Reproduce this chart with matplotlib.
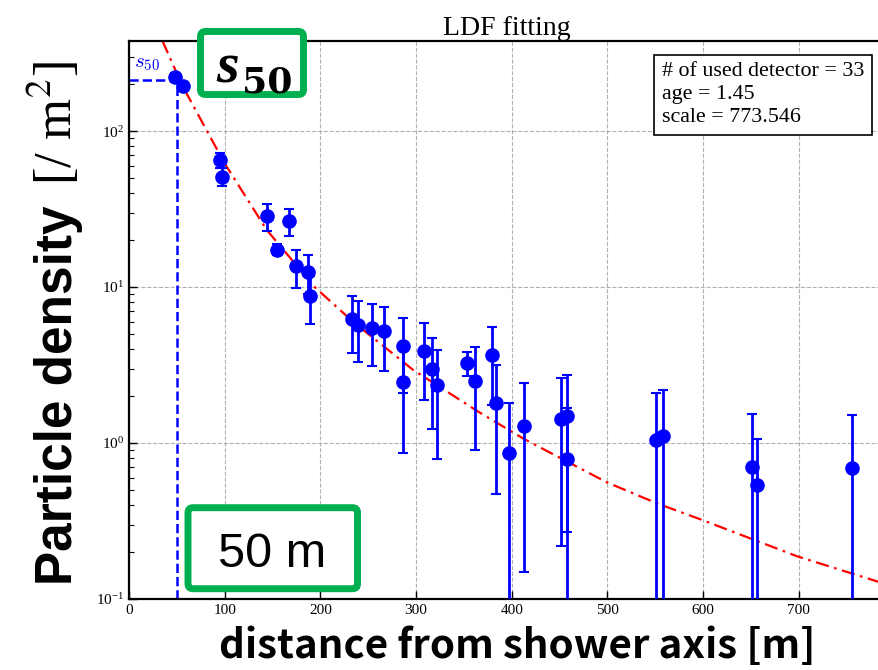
import numpy as np
import matplotlib
matplotlib.use("Agg")
import matplotlib.pyplot as plt
from matplotlib.patches import FancyBboxPatch

# detector data
r = [48, 56, 95, 97.5, 144, 155, 167, 175, 187, 189, 233, 239, 254, 266, 286, 286,
     308, 317, 322, 353, 362, 379, 384, 397, 413, 451.5, 458, 458, 551, 558, 651, 656, 755]
rho = [222, 194, 65.2, 51, 28.5, 17.4, 26.6, 13.6, 12.5, 8.8, 6.26, 5.71, 5.46, 5.2, 4.2, 2.46,
       3.89, 2.98, 2.36, 3.27, 2.5, 3.65, 1.81, 0.865, 1.29, 1.42, 1.5, 0.787, 1.045, 1.11, 0.706, 0.54, 0.689]
rho_err = [15, 13, 7.5, 6.8, 5.5, 1.4, 5.2, 3.7, 3.5, 3.0, 2.5, 2.4, 2.35, 2.3, 2.1, 1.6,
           2.0, 1.75, 1.57, 0.57, 1.6, 1.9, 1.34, 0.93, 1.14, 1.2, 1.23, 0.9, 1.04, 1.08, 0.84, 0.52, 0.83]

# fitted LDF curve
fit_r = [35, 56, 100, 144, 194, 234, 297, 367, 413, 499, 551, 599, 698, 790]
fit_rho = [378, 194, 62, 23.2, 10.0, 6.0, 2.94, 1.56, 1.06, 0.561, 0.412, 0.321, 0.188, 0.125]

s50_r = 50
s50 = 214
info = "# of used detector = 33\nage = 1.45\nscale = 773.546"

plt.rcParams['mathtext.fontset'] = 'cm'
plt.rcParams['font.family'] = 'Liberation Serif'

W, H = 879, 670
fig = plt.figure(figsize=(W / 100, H / 100), dpi=100)
ax = fig.add_axes([129 / W, 1 - 599 / H, 756 / W, 558 / H])


def px(x, y):
    # pixel position (from top-left) -> inches for dpi_scale_trans
    return x / 100, (H - y) / 100


ax.set_yscale('log')
ax.errorbar(r, rho, yerr=rho_err, fmt='o', color='blue', ms=9.5, elinewidth=2,
            capsize=3.8, capthick=1.5, zorder=3)
ax.plot(fit_r, fit_rho, color='red', ls=(0, (6, 2.5, 1.2, 2.5)), lw=1.6, zorder=2)
ax.plot([0, s50_r], [s50, s50], color='blue', ls='--', lw=1.8, zorder=2)
ax.plot([s50_r, s50_r], [0.1, s50], color='blue', ls='--', lw=1.8, zorder=2)
ax.text(5, 257, r'$s_{50}$', color='blue', fontsize=15, va='baseline')

ax.set_xlim(0, 790)
ax.set_ylim(0.1, 378)
ax.set_xticks(np.arange(0, 800, 100))
ax.grid(True, which='major', ls='--', color='#b0b0b0', lw=0.8)
ax.tick_params(which='both', direction='in', labelsize=11)
ax.tick_params(which='major', length=6, width=1)
ax.tick_params(which='minor', length=3.5, width=0.8)
for sp in ax.spines.values():
    sp.set_linewidth(1.6)
ax.set_title('LDF fitting', fontsize=20, pad=3)

ax.text(0.705, 0.962, info, transform=ax.transAxes, fontsize=15.8, va='top', ha='left',
        linespacing=1.28,
        bbox=dict(boxstyle='square,pad=0.35', fc='white', ec='black', lw=1.2))

green = '#00B050'
# s50 label box
x0, y0 = px(200.5, 94.5)
x1, y1 = px(303.5, 31.5)
fig.add_artist(FancyBboxPatch((x0, y0), x1 - x0, y1 - y0, boxstyle='round,pad=0,rounding_size=0.05',
                              transform=fig.dpi_scale_trans, fc='white', ec=green, lw=5))
fig.text(*px(216, 82.7), 's', transform=fig.dpi_scale_trans, fontsize=42, fontweight='bold',
         fontstyle='italic', family='Liberation Serif', va='baseline', ha='left')
fig.text(*px(242, 92.7), '50', transform=fig.dpi_scale_trans, fontsize=26, fontweight='bold',
         family='DejaVu Serif', va='baseline', ha='left')

# 50 m box
x0, y0 = px(188, 588.7)
x1, y1 = px(357.5, 507.7)
fig.add_artist(FancyBboxPatch((x0, y0), x1 - x0, y1 - y0, boxstyle='round,pad=0,rounding_size=0.05',
                              transform=fig.dpi_scale_trans, fc='white', ec=green, lw=5))
fig.text(*px(272, 567), '50 m', transform=fig.dpi_scale_trans, fontsize=35,
         family='Liberation Sans', va='baseline', ha='center')

# axis labels
fig.text(*px(517, 658), 'distance from shower axis [m]', transform=fig.dpi_scale_trans,
         fontsize=29, fontweight='bold', family=['Noto Sans CJK JP', 'DejaVu Sans'],
         va='baseline', ha='center')
ylab = fig.text(*px(72, 585), 'Particle density', transform=fig.dpi_scale_trans, fontsize=37,
                fontweight='bold', family='Liberation Sans', rotation=90,
                rotation_mode='anchor', ha='left', va='baseline')
fig.canvas.draw()
bb = ylab.get_window_extent()
fig.text(72 / 100, (bb.y1 + 20) / 100, r'[/ m$^2$]', transform=fig.dpi_scale_trans, fontsize=38,
         family='Liberation Serif', math_fontfamily='stix', rotation=90,
         rotation_mode='anchor', ha='left', va='baseline')

fig.savefig('out.png', dpi=100)
